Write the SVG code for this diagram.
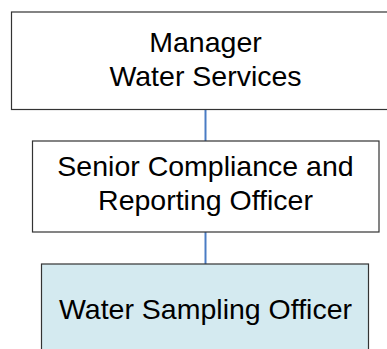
<svg xmlns="http://www.w3.org/2000/svg" width="387" height="349" viewBox="0 0 387 349">
<style>
.box{stroke:#333333;stroke-width:1.2}
.t{font-family:"Liberation Sans",Arial,sans-serif;font-size:28.5px;fill:#000000;text-anchor:middle}
.c{stroke:#4a7cc4;stroke-width:2;fill:none}
</style>
<rect x="0" y="0" width="387" height="349" fill="#ffffff"/>
<g id="connectors">
<line class="c" x1="205.5" y1="109.5" x2="205.5" y2="141"/>
<line class="c" x1="205.5" y1="232" x2="205.5" y2="264"/>
</g>
<g id="manager">
<rect class="box" x="11.5" y="12" width="388" height="97.5" fill="#ffffff"/>
<text class="t" x="205.5" y="52">Manager</text>
<text class="t" x="205.5" y="86">Water Services</text>
</g>
<g id="senior">
<rect class="box" x="32.5" y="141" width="346.5" height="91" fill="#ffffff"/>
<text class="t" x="205.5" y="176">Senior Compliance and</text>
<text class="t" x="205.5" y="210">Reporting Officer</text>
</g>
<g id="sampling">
<rect class="box" x="41.5" y="264" width="327" height="100" fill="#d4eaf0"/>
<text class="t" x="205.5" y="319">Water Sampling Officer</text>
</g>
</svg>
